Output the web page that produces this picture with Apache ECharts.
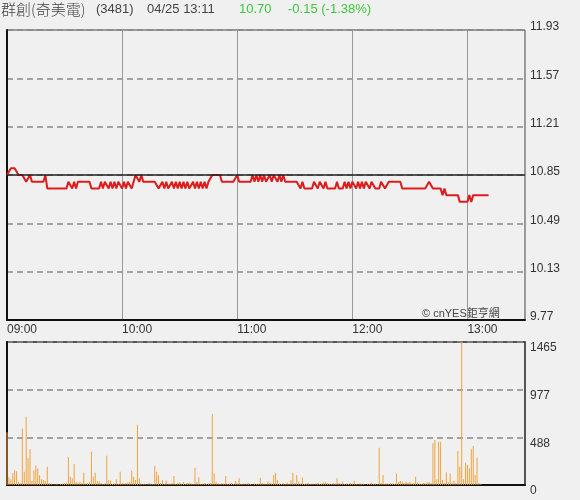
<!DOCTYPE html>
<html>
<head>
<meta charset="utf-8">
<script src="https://cdn.jsdelivr.net/npm/echarts@6/dist/echarts.min.js"></script>
<style>
  html, body { margin: 0; padding: 0; background: #f0f0f0; }
  #chart { width: 580px; height: 500px; }
</style>
</head>
<body>
<div id="chart"></div>
<script>
// 分時走勢 (每分鐘一筆, 09:00 起)
const prevClose = 10.85;
const priceTicks = [9.77, 10.13, 10.49, 10.85, 11.21, 11.57, 11.93];
const volTicks = [0, 488, 977, 1465];
const timeTicks = [0, 60, 120, 180, 240];

const price = [
  10.85,10.85,10.90,10.90,10.90,10.90,10.85,10.85,10.85,10.85,
  10.80,10.80,10.85,10.80,10.80,10.80,10.80,10.80,10.80,10.80,
  10.85,10.75,10.75,10.75,10.75,10.75,10.75,10.75,10.75,10.75,
  10.75,10.75,10.80,10.80,10.75,10.80,10.75,10.80,10.80,10.80,
  10.80,10.80,10.80,10.80,10.75,10.75,10.75,10.75,10.75,10.80,
  10.75,10.80,10.80,10.75,10.80,10.75,10.80,10.75,10.80,10.80,
  10.75,10.80,10.75,10.80,10.80,10.75,10.80,10.85,10.85,10.80,
  10.85,10.80,10.80,10.80,10.80,10.80,10.80,10.80,10.80,10.75,
  10.75,10.80,10.75,10.80,10.75,10.75,10.80,10.75,10.80,10.75,
  10.80,10.75,10.80,10.75,10.80,10.75,10.75,10.80,10.75,10.80,
  10.75,10.80,10.75,10.80,10.75,10.80,10.80,10.85,10.85,10.85,
  10.85,10.85,10.80,10.80,10.80,10.80,10.80,10.80,10.80,10.80,
  10.85,10.80,10.80,10.80,10.80,10.80,10.80,10.80,10.85,10.80,
  10.85,10.80,10.85,10.80,10.85,10.80,10.80,10.85,10.80,10.85,
  10.85,10.80,10.85,10.80,10.85,10.80,10.80,10.80,10.80,10.80,
  10.80,10.80,10.80,10.75,10.80,10.75,10.75,10.75,10.75,10.75,
  10.80,10.80,10.75,10.80,10.80,10.75,10.80,10.75,10.75,10.75,
  10.75,10.75,10.80,10.75,10.75,10.75,10.80,10.75,10.80,10.75,
  10.80,10.80,10.75,10.80,10.75,10.80,10.75,10.80,10.80,10.75,
  10.80,10.80,10.75,10.75,10.75,10.80,10.80,10.75,10.75,10.80,
  10.80,10.80,10.80,10.80,10.80,10.80,10.75,10.75,10.75,10.75,
  10.75,10.75,10.75,10.75,10.75,10.75,10.75,10.75,10.75,10.75,
  10.80,10.80,10.75,10.75,10.75,10.75,10.75,10.70,10.75,10.70,
  10.70,10.70,10.70,10.70,10.70,10.70,10.65,10.65,10.65,10.65,
  10.65,10.70,10.65,10.70,10.70,10.70,10.70,10.70,10.70,10.70,
  10.70,10.70
];

const volume = [
  540,80,60,120,150,140,30,20,580,136,
  700,276,369,40,150,200,170,100,60,50,
  40,188,20,10,5,8,12,6,10,15,
  20,25,287,85,68,215,30,25,30,20,
  126,15,20,30,341,85,126,40,35,20,
  10,15,300,50,45,10,15,58,10,136,
  20,15,20,25,30,147,85,50,614,68,
  15,10,12,8,20,15,10,195,136,100,
  20,50,10,45,15,10,20,92,10,20,
  25,15,30,10,20,25,15,10,178,30,
  80,10,15,20,10,15,20,727,120,30,
  15,10,20,15,92,10,15,20,10,40,
  15,68,10,15,8,12,20,10,5,15,
  10,12,75,20,15,10,34,20,15,102,
  126,51,15,10,20,10,25,10,51,126,
  20,102,34,15,78,10,15,20,10,12,
  8,15,20,10,15,25,30,20,15,10,
  20,15,68,20,15,34,10,15,10,20,
  15,44,10,8,12,15,10,5,10,15,
  20,10,12,8,382,20,102,10,15,12,
  20,15,10,119,30,40,35,20,34,25,
  30,15,20,85,25,15,10,20,15,25,
  30,20,427,460,60,444,444,51,20,130,
  30,119,25,40,20,348,188,1465,60,229,
  205,171,365,399,102,280,20,8,0,0,
  0,0
];

function hhmm(m) {
  const h = 9 + Math.floor(m / 60);
  const mm = m % 60;
  return (h < 10 ? '0' + h : '' + h) + ':' + (mm < 10 ? '0' + mm : '' + mm);
}

const font = '"Liberation Sans", Arial, "Noto Sans CJK TC", sans-serif';
var myChart = echarts.init(document.getElementById('chart'));

var option = {
  backgroundColor: '#f0f0f0',
  animation: false,
  textStyle: { fontFamily: font },
  graphic: [
    { type: 'text', left: 1, top: 2, style: { text: '群創(奇美電)', fontSize: 15, fill: '#444', fontFamily: '"Noto Sans CJK TC", sans-serif', fontWeight: 300 } },
    { type: 'text', left: 96, top: 3, style: { text: '(3481)', fontSize: 13, fill: '#444', fontFamily: font } },
    { type: 'text', left: 147, top: 3, style: { text: '04/25 13:11', fontSize: 13, fill: '#444', fontFamily: font } },
    { type: 'text', left: 239, top: 3, style: { text: '10.70', fontSize: 13, fill: '#3cc83c', fontFamily: font } },
    { type: 'text', left: 288, top: 3, style: { text: '-0.15 (-1.38%)', fontSize: 13, fill: '#3cc83c', fontFamily: font } },
    { type: 'text', left: 422, top: 308, style: { text: '© cnYES鉅亨網', fontSize: 11, fill: '#444', fontFamily: font } }
  ],
  grid: [
    { left: 7, right: 55, top: 30, height: 290, show: true, borderColor: '#444', borderWidth: 1 },
    { left: 7, right: 55, top: 342, height: 143, show: true, borderColor: '#222', borderWidth: 1.5 }
  ],
  xAxis: [
    {
      type: 'value', gridIndex: 0, min: 0, max: 270,
      axisLine: { show: true, lineStyle: { color: '#111', width: 2 } },
      axisTick: { show: false, customValues: timeTicks },
      splitLine: { show: true, lineStyle: { color: '#999', width: 1 } },
      axisLabel: {
        customValues: timeTicks,
        formatter: function (v) { return hhmm(v); },
        align: 'left', margin: 4, color: '#333', fontSize: 12, fontFamily: font
      }
    },
    {
      type: 'value', gridIndex: 1, min: 0, max: 270,
      axisLine: { show: true, lineStyle: { color: '#111', width: 2 } },
      axisTick: { show: false },
      splitLine: { show: false },
      axisLabel: { show: false }
    }
  ],
  yAxis: [
    {
      type: 'value', gridIndex: 0, position: 'right', min: 9.77, max: 11.93,
      axisLine: { show: false },
      axisTick: { show: false, customValues: priceTicks },
      splitLine: { show: true, lineStyle: { color: '#888', type: [6, 4], width: 1.5 } },
      axisLabel: {
        customValues: priceTicks,
        formatter: function (v) { return v.toFixed(2); },
        margin: 5, verticalAlign: 'bottom', lineHeight: 6,
        color: '#333', fontSize: 12, fontFamily: font
      }
    },
    {
      type: 'value', gridIndex: 1, position: 'right', min: 0, max: 1465,
      axisLine: { show: false },
      axisTick: { show: false, customValues: volTicks },
      splitLine: { show: true, lineStyle: { color: '#888', type: [6, 4], width: 1.5 } },
      axisLabel: {
        customValues: volTicks,
        formatter: function (v) { return String(v); },
        margin: 5, verticalAlign: 'top', lineHeight: 12,
        color: '#333', fontSize: 12, fontFamily: font
      }
    },
    // 左邊框 (較粗黑線)
    {
      type: 'value', gridIndex: 0, position: 'left', min: 9.77, max: 11.93,
      axisLine: { show: true, onZero: false, lineStyle: { color: '#111', width: 2 } },
      axisTick: { show: false }, axisLabel: { show: false }, splitLine: { show: false }
    },
    {
      type: 'value', gridIndex: 1, position: 'left', min: 0, max: 1465,
      axisLine: { show: true, onZero: false, lineStyle: { color: '#111', width: 2 } },
      axisTick: { show: false }, axisLabel: { show: false }, splitLine: { show: false }
    }
  ],
  series: [
    {
      name: '成交價', type: 'line', xAxisIndex: 0, yAxisIndex: 0,
      data: price.map(function (p, i) { return [i, p]; }),
      showSymbol: false,
      lineStyle: { color: '#dd1c1c', width: 2 },
      markLine: {
        silent: true, symbol: 'none', label: { show: false },
        lineStyle: { color: '#222', type: 'solid', width: 1.5 },
        data: [{ yAxis: prevClose }]
      },
      z: 3
    },
    {
      name: '成交量', type: 'bar', xAxisIndex: 1, yAxisIndex: 1,
      data: volume.map(function (v, i) { return [i, v]; }),
      barWidth: 1,
      itemStyle: { color: '#f0a33c' }
    }
  ]
};

myChart.setOption(option);
</script>
</body>
</html>
